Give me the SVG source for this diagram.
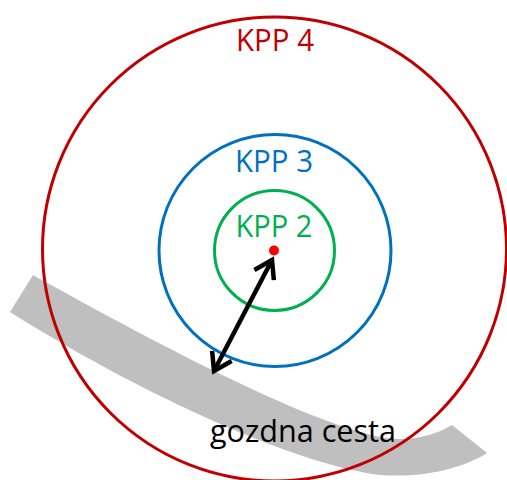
<svg xmlns="http://www.w3.org/2000/svg" width="507" height="480" viewBox="0 0 507 480">
  <defs>
    <style>
      .lbl { font-family: "Open Sans", "Noto Sans", "Liberation Sans", sans-serif; font-size: 31px; text-anchor: middle; }
      .ring { fill: none; stroke-width: 3; }
    </style>
    <marker id="head" markerUnits="userSpaceOnUse" markerWidth="30" markerHeight="30" viewBox="-22 -15 30 30" refX="0" refY="0" orient="auto-start-reverse" overflow="visible">
      <path d="M-17,-11 L0,0 L-17,11" fill="none" stroke="#000" stroke-width="4.5" stroke-linejoin="miter"/>
    </marker>
  </defs>
  <rect width="507" height="480" fill="#fff"/>
  <g id="road">
    <path d="M33,275 C150,340 300,420 380,437 C405,442 430,438 452,425 L487,453 C460,470 420,478 380,475 C300,465 150,400 10,312 Z" fill="#bfbfbf"/>
  </g>
  <g id="kpp4">
    <circle class="ring" cx="274.5" cy="249" r="232" stroke="#c00000"/>
    <text class="lbl" x="275" y="51" fill="#c00000" textLength="78" lengthAdjust="spacingAndGlyphs">KPP 4</text>
  </g>
  <g id="kpp3">
    <circle class="ring" cx="275" cy="250.5" r="116" stroke="#0070c0"/>
    <text class="lbl" x="274" y="172" fill="#0070c0" textLength="78" lengthAdjust="spacingAndGlyphs">KPP 3</text>
  </g>
  <g id="kpp2">
    <circle class="ring" cx="274.5" cy="250.5" r="60" stroke="#00b050"/>
    <text class="lbl" x="274" y="237" fill="#00b050" textLength="77" lengthAdjust="spacingAndGlyphs">KPP 2</text>
  </g>
  <g id="center">
    <circle cx="274" cy="250.5" r="5" fill="#ff0000"/>
  </g>
  <g id="label">
    <text class="lbl" x="303" y="442" fill="#000" font-size="30" textLength="186" lengthAdjust="spacingAndGlyphs">gozdna cesta</text>
  </g>
  <g id="connectors">
    <line x1="214" y1="371" x2="272" y2="260" stroke="#000" stroke-width="4.5" marker-start="url(#head)" marker-end="url(#head)"/>
  </g>
</svg>
